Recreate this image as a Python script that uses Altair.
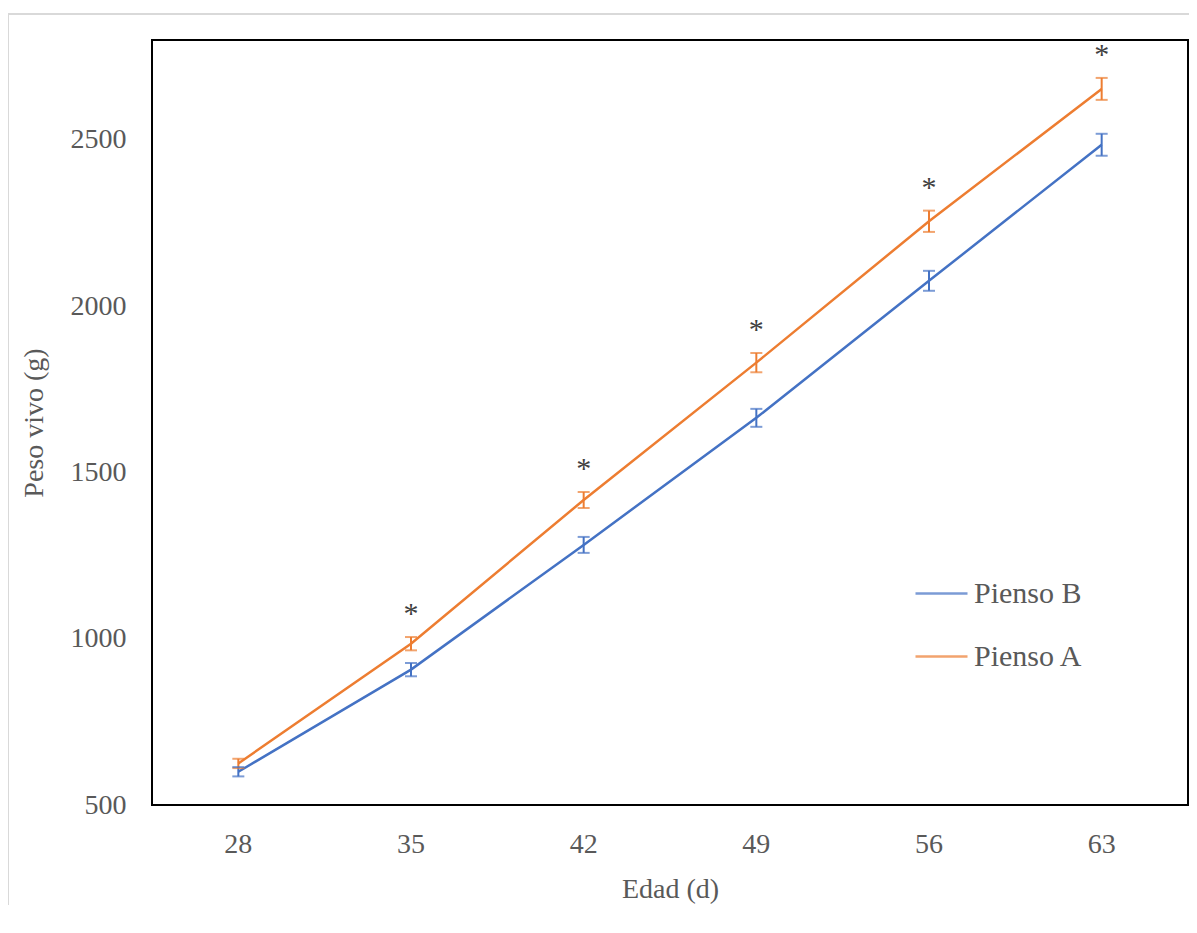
import altair as alt
import pandas as pd

edad = ["28", "35", "42", "49", "56", "63"]
pienso_a = [625, 985, 1417, 1830, 2255, 2653]
err_a = [14, 20, 24, 29, 32, 33]
pienso_b = [600, 907, 1282, 1664, 2076, 2485]
err_b = [14, 20, 24, 27, 30, 33]
signif = ["", "*", "*", "*", "*", "*"]

rows = []
for i, e in enumerate(edad):
    rows.append({"edad": e, "serie": "Pienso B", "peso": pienso_b[i], "err": err_b[i], "sig": ""})
    rows.append({"edad": e, "serie": "Pienso A", "peso": pienso_a[i], "err": err_a[i], "sig": signif[i]})
df = pd.DataFrame(rows)
df["lo"] = df["peso"] - df["err"]
df["hi"] = df["peso"] + df["err"]

FONT = "Liberation Serif"
GRAY = "#595959"
order = ["Pienso B", "Pienso A"]
color = alt.Color(
    "serie:N",
    scale=alt.Scale(domain=order, range=["#4472C4", "#ED7D31"]),
    legend=alt.Legend(
        title=None, orient="none", legendX=762, legendY=526,
        symbolType="stroke", symbolSize=2704, symbolStrokeWidth=2.5,
        labelFont=FONT, labelFontSize=30, labelColor=GRAY, labelOffset=5,
        rowPadding=20, padding=0,
    ),
    sort=order,
)

x = alt.X("edad:O", sort=edad, title="Edad (d)",
          axis=alt.Axis(labelAngle=0, ticks=False, domain=False, labelPadding=25,
                        titlePadding=17))
y_scale = alt.Scale(domain=[500, 2800], nice=False, zero=False)

base = alt.Chart(df)
line = base.mark_line(strokeWidth=2.5).encode(
    x=x,
    y=alt.Y("peso:Q", scale=y_scale, title="Peso vivo (g)",
            axis=alt.Axis(values=[500, 1000, 1500, 2000, 2500], format="d", grid=False,
                          ticks=False, domain=False, labelPadding=26, titlePadding=22)),
    color=color,
)
rule = base.mark_rule(strokeWidth=2).encode(x="edad:O", y="lo:Q", y2="hi:Q", color=color)
cap_lo = base.mark_tick(orient="horizontal", size=12, thickness=2).encode(x="edad:O", y="lo:Q", color=color)
cap_hi = base.mark_tick(orient="horizontal", size=12, thickness=2).encode(x="edad:O", y="hi:Q", color=color)
stars = base.transform_filter(alt.datum.sig != "").mark_text(
    font=FONT, fontSize=30, color="#404040", baseline="alphabetic", dy=-14
).encode(x="edad:O", y="hi:Q", text="sig:N")

frame_top = alt.Chart(df).mark_rule(color="#d9d9d9", strokeWidth=2, clip=False).encode(
    x=alt.value(-144), x2=alt.value(1040), y=alt.value(-26))
frame_left = alt.Chart(df).mark_rule(color="#d9d9d9", strokeWidth=2, clip=False).encode(
    x=alt.value(-144), y=alt.value(-26), y2=alt.value(900))

chart = alt.layer(frame_top, frame_left, line, rule, cap_lo, cap_hi, stars).properties(
    width=1036, height=765,
    autosize=alt.AutoSizeParams(type="none"),
    padding={"left": 144, "top": 32, "right": 1, "bottom": 100},
).configure(background="white").configure_view(stroke="black", strokeWidth=2).configure_axis(
    labelFont=FONT, labelFontSize=28, labelColor=GRAY, titleFont=FONT, titleFontSize=28,
    titleColor=GRAY, titleFontWeight="normal"
)

chart.save("out.html", embed_options={"renderer": "svg", "actions": False})
